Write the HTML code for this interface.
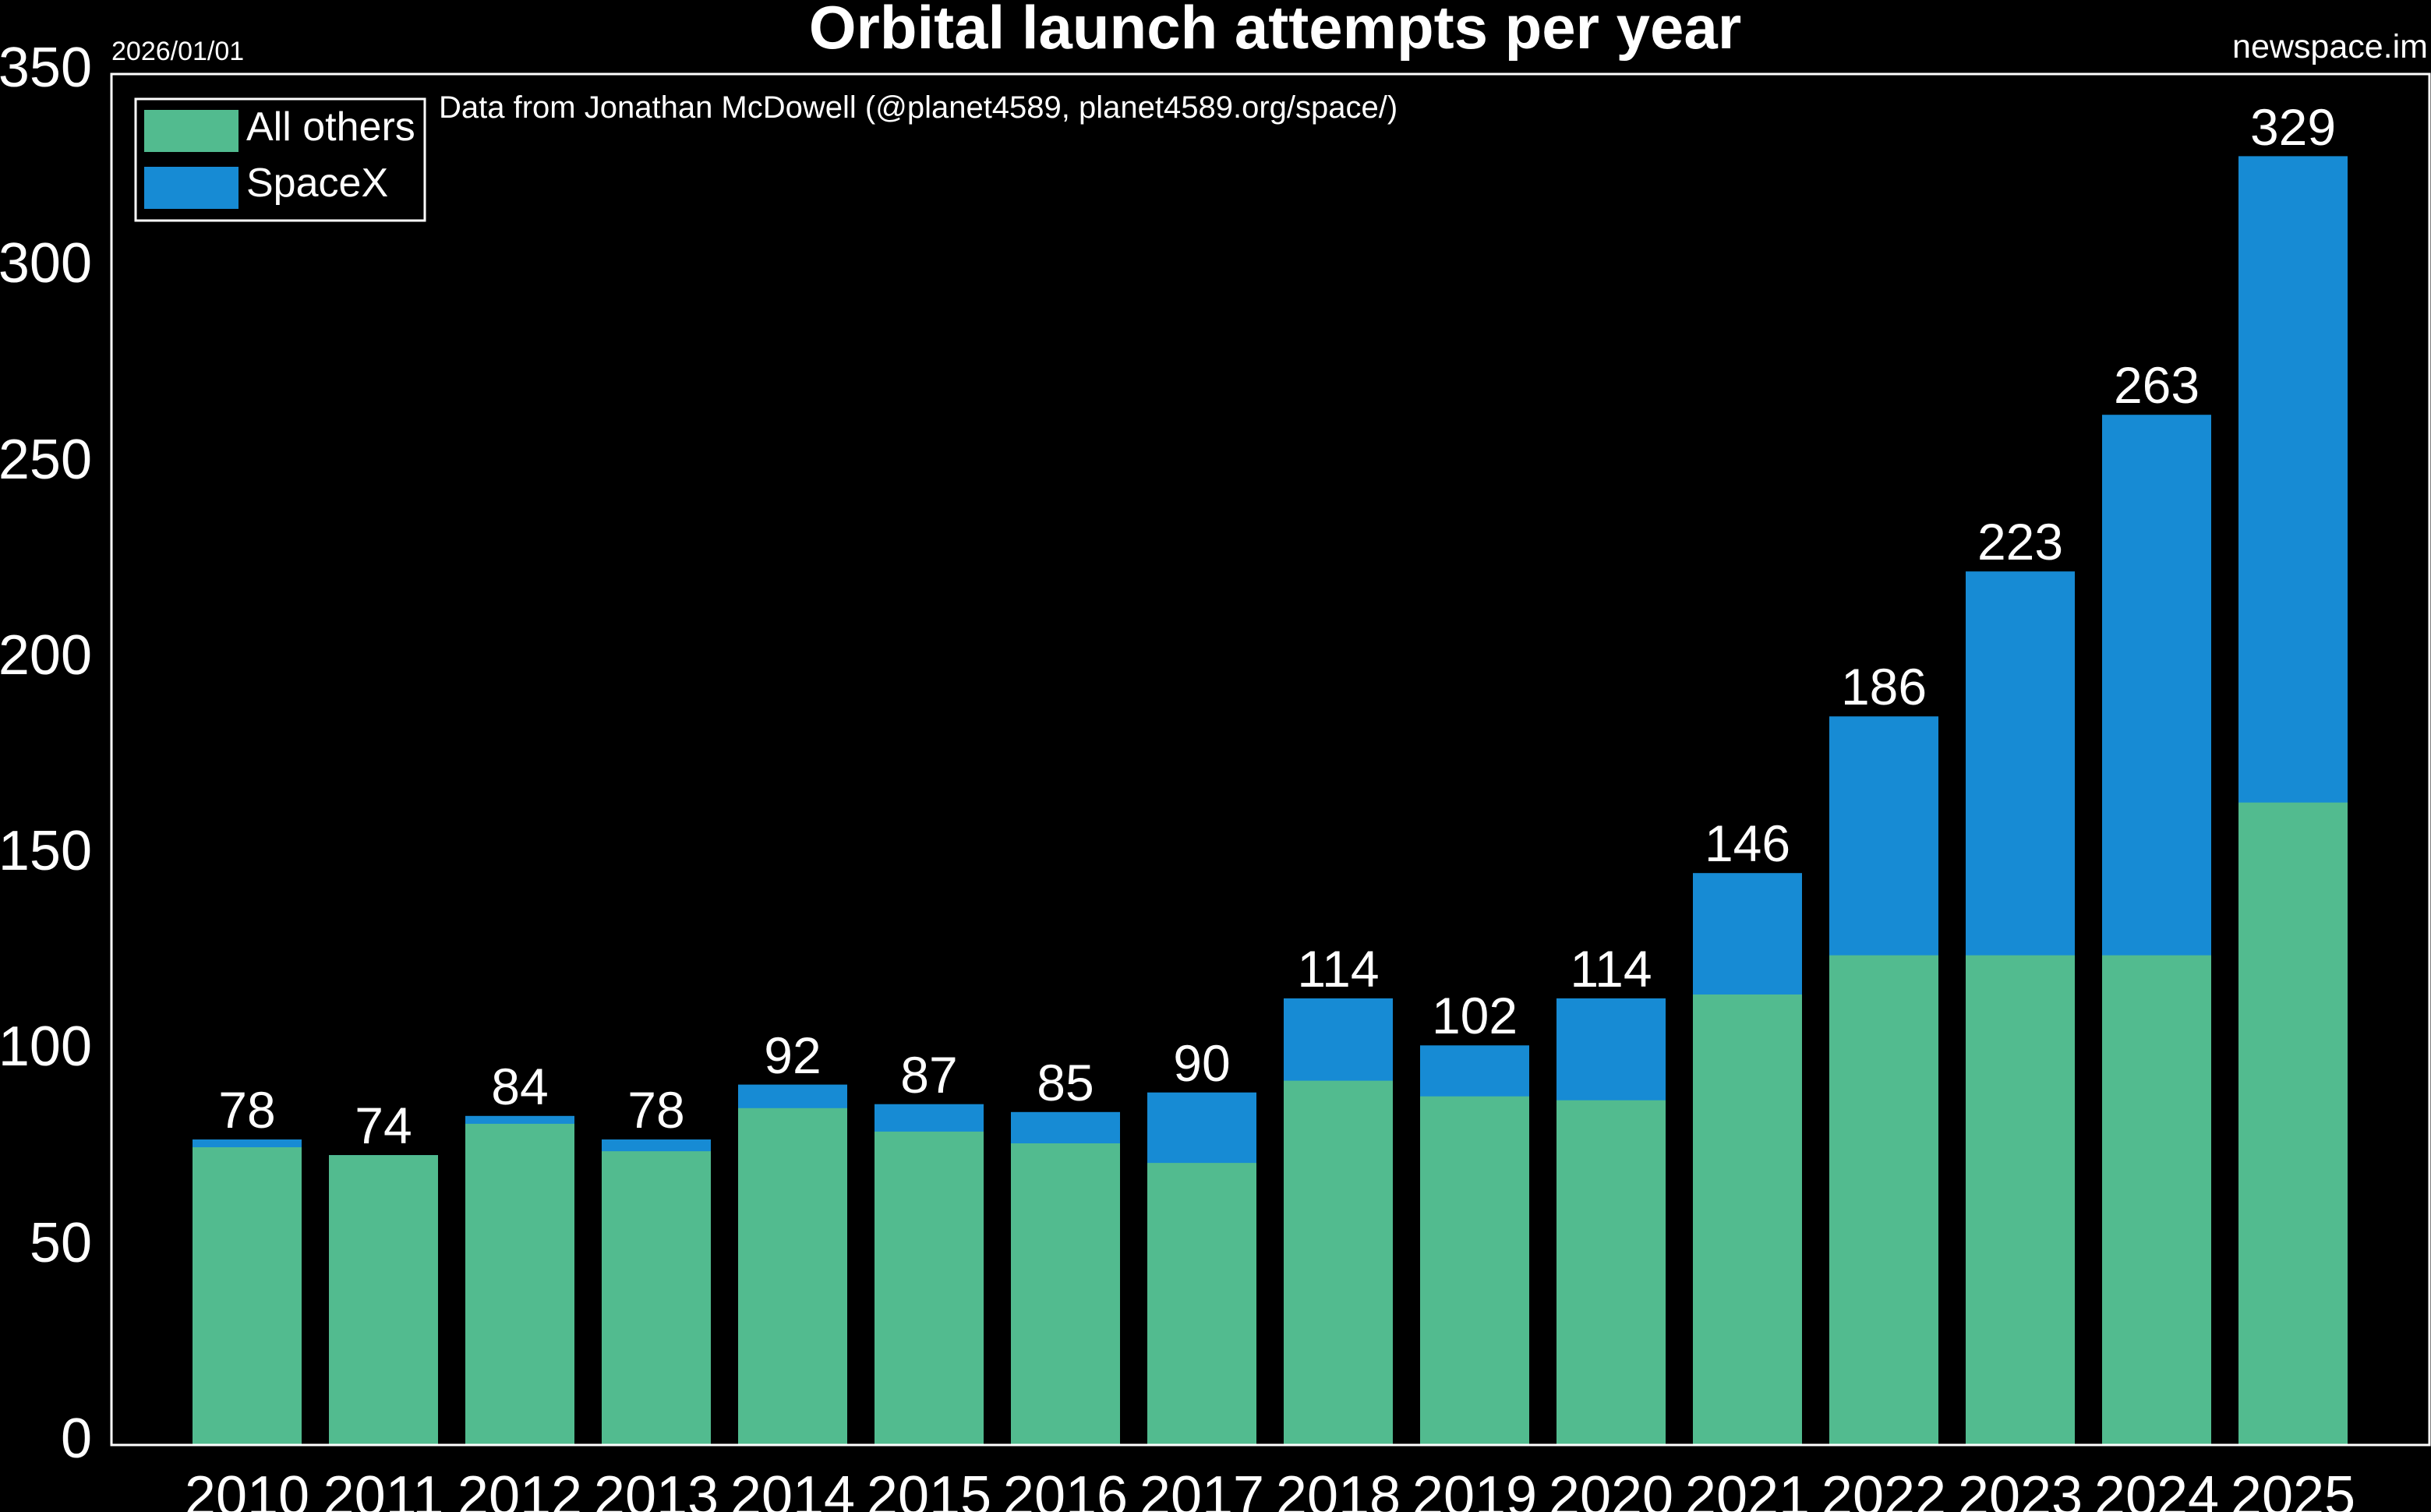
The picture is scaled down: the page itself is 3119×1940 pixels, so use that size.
<!DOCTYPE html>
<html><head><meta charset="utf-8"><style>
html,body{margin:0;padding:0;background:#000;}
svg{display:block;}
text{font-family:"Liberation Sans",sans-serif;fill:#fff;}
</style></head><body>
<svg width="3119" height="1940" viewBox="0 0 3119 1940" xmlns="http://www.w3.org/2000/svg">
<rect width="3119" height="1940" fill="#000"/>
<text x="1636" y="62" font-size="78" font-weight="bold" text-anchor="middle">Orbital launch attempts per year</text>
<text x="143" y="77" font-size="34">2026/01/01</text>
<text x="3115" y="74" font-size="43" text-anchor="end">newspace.im</text>
<text x="563" y="151" font-size="40">Data from Jonathan McDowell (@planet4589, planet4589.org/space/)</text>
<g fill="#178bd4">
<rect x="247" y="1462.0" width="140" height="392"/>
<rect x="422" y="1482.1" width="140" height="372"/>
<rect x="597" y="1431.8" width="140" height="423"/>
<rect x="772" y="1462.0" width="140" height="392"/>
<rect x="947" y="1391.6" width="140" height="463"/>
<rect x="1122" y="1416.7" width="140" height="438"/>
<rect x="1297" y="1426.8" width="140" height="428"/>
<rect x="1472" y="1401.7" width="140" height="453"/>
<rect x="1647" y="1281.0" width="140" height="573"/>
<rect x="1822" y="1341.3" width="140" height="513"/>
<rect x="1997" y="1281.0" width="140" height="573"/>
<rect x="2172" y="1120.2" width="140" height="734"/>
<rect x="2347" y="919.2" width="140" height="935"/>
<rect x="2522" y="733.2" width="140" height="1121"/>
<rect x="2697" y="532.2" width="140" height="1322"/>
<rect x="2872" y="200.4" width="140" height="1654"/>
</g>
<g fill="#52bb8f">
<rect x="247" y="1472.0" width="140" height="382"/>
<rect x="422" y="1482.1" width="140" height="372"/>
<rect x="597" y="1441.9" width="140" height="413"/>
<rect x="772" y="1477.1" width="140" height="377"/>
<rect x="947" y="1421.8" width="140" height="433"/>
<rect x="1122" y="1451.9" width="140" height="403"/>
<rect x="1297" y="1467.0" width="140" height="387"/>
<rect x="1472" y="1492.1" width="140" height="362"/>
<rect x="1647" y="1386.6" width="140" height="468"/>
<rect x="1822" y="1406.7" width="140" height="448"/>
<rect x="1997" y="1411.7" width="140" height="443"/>
<rect x="2172" y="1276.0" width="140" height="578"/>
<rect x="2347" y="1225.7" width="140" height="629"/>
<rect x="2522" y="1225.7" width="140" height="629"/>
<rect x="2697" y="1225.7" width="140" height="629"/>
<rect x="2872" y="1029.7" width="140" height="825"/>
</g>
<g font-size="66" text-anchor="middle">
<text x="317" y="1447">78</text>
<text x="492" y="1467">74</text>
<text x="667" y="1417">84</text>
<text x="842" y="1447">78</text>
<text x="1017" y="1377">92</text>
<text x="1192" y="1402">87</text>
<text x="1367" y="1412">85</text>
<text x="1542" y="1387">90</text>
<text x="1717" y="1266">114</text>
<text x="1892" y="1326">102</text>
<text x="2067" y="1266">114</text>
<text x="2242" y="1105">146</text>
<text x="2417" y="904">186</text>
<text x="2592" y="718">223</text>
<text x="2767" y="517">263</text>
<text x="2942" y="186">329</text>
</g>
<g font-size="72" text-anchor="middle">
<text x="317" y="1944">2010</text>
<text x="492" y="1944">2011</text>
<text x="667" y="1944">2012</text>
<text x="842" y="1944">2013</text>
<text x="1017" y="1944">2014</text>
<text x="1192" y="1944">2015</text>
<text x="1367" y="1944">2016</text>
<text x="1542" y="1944">2017</text>
<text x="1717" y="1944">2018</text>
<text x="1892" y="1944">2019</text>
<text x="2067" y="1944">2020</text>
<text x="2242" y="1944">2021</text>
<text x="2417" y="1944">2022</text>
<text x="2592" y="1944">2023</text>
<text x="2767" y="1944">2024</text>
<text x="2942" y="1944">2025</text>
</g>
<rect x="143" y="95" width="2974" height="1759" fill="none" stroke="#fff" stroke-width="3"/>
<rect x="174" y="127" width="371" height="156" fill="#000" stroke="#fff" stroke-width="3"/>
<rect x="185" y="141" width="121" height="54" fill="#52bb8f"/>
<rect x="185" y="214" width="121" height="54" fill="#178bd4"/>
<text x="316" y="180" font-size="52">All others</text>
<text x="316" y="252" font-size="52">SpaceX</text>
<g font-size="72" text-anchor="end">
<text x="118" y="1870">0</text>
<text x="118" y="1619">50</text>
<text x="118" y="1367">100</text>
<text x="118" y="1116">150</text>
<text x="118" y="865">200</text>
<text x="118" y="614">250</text>
<text x="118" y="362">300</text>
<text x="118" y="111">350</text>
</g>
</svg>
</body></html>
